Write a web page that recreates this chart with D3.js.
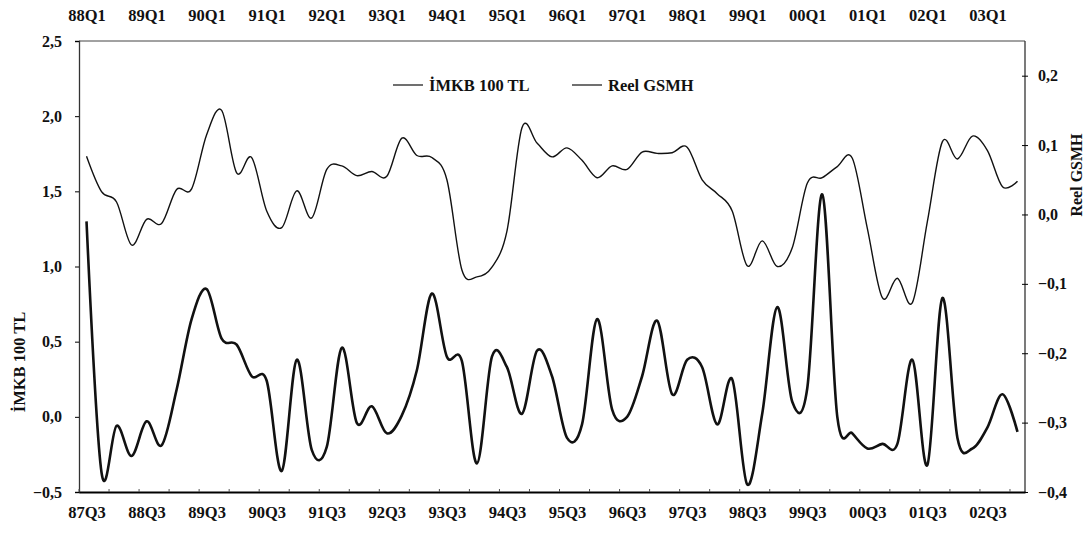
<!DOCTYPE html>
<html>
<head>
<meta charset="utf-8">
<script src="https://cdn.jsdelivr.net/npm/d3@7"></script>
<style>
  body { margin: 0; background: #fff; }
  svg text { font-family: "Liberation Serif", "Times New Roman", serif; font-weight: bold; fill: #111; }
</style>
</head>
<body>
<div id="chart"></div>
<script>
// quarters for the bottom axis (İMKB) and top axis (GSMH, two quarters ahead)
const quartersBottom = [];
const quartersTop = [];
for (let y = 1987; y <= 2003; y++) {
  for (let q = 1; q <= 4; q++) {
    const lab = String(y).slice(2) + "Q" + q;
    if ((y > 1987 || q >= 3) && (y < 2003 || q <= 1)) quartersBottom.push(lab);
    if (y >= 1988 && (y < 2003 || q <= 3)) quartersTop.push(lab);
  }
}

const imkb = [
  1.30, -0.37, -0.06, -0.26, -0.03, -0.19, 0.18, 0.65, 0.85, 0.52,
  0.48, 0.27, 0.24, -0.36, 0.38, -0.22, -0.20, 0.46, -0.04, 0.07,
  -0.11, 0.01, 0.31, 0.82, 0.40, 0.37, -0.31, 0.40, 0.33, 0.02,
  0.44, 0.27, -0.14, -0.05, 0.65, 0.05, 0.00, 0.27, 0.64, 0.15,
  0.38, 0.33, -0.05, 0.25, -0.45, 0.02, 0.73, 0.10, 0.19, 1.48,
  0.00, -0.11, -0.21, -0.18, -0.18, 0.38, -0.32, 0.79, -0.14, -0.21,
  -0.07, 0.15, -0.10
];

const gsmh = [
  0.084, 0.033, 0.018, -0.044, -0.007, -0.013, 0.036, 0.037, 0.115, 0.150,
  0.060, 0.082, 0.005, -0.019, 0.034, -0.005, 0.065, 0.070, 0.056, 0.062,
  0.055, 0.110, 0.085, 0.082, 0.050, -0.080, -0.090, -0.076, -0.024, 0.125,
  0.103, 0.083, 0.096, 0.078, 0.053, 0.070, 0.065, 0.090, 0.088, 0.089,
  0.097, 0.050, 0.030, 0.005, -0.074, -0.038, -0.075, -0.048, 0.045, 0.053,
  0.069, 0.081, -0.020, -0.120, -0.092, -0.127, -0.010, 0.105, 0.080, 0.113,
  0.092, 0.040, 0.048
];

const leftTicks = [-0.5, 0, 0.5, 1, 1.5, 2, 2.5];
const rightTicks = [-0.4, -0.3, -0.2, -0.1, 0, 0.1, 0.2];

const W = 1085, H = 536;
const margin = { top: 41, right: 60, bottom: 44, left: 79 };
const width = W - margin.left - margin.right;
const height = H - margin.top - margin.bottom;

const svg = d3.select("#chart").append("svg")
  .attr("width", W).attr("height", H);
const g = svg.append("g").attr("transform", `translate(${margin.left},${margin.top})`);

const x = d3.scalePoint().domain(quartersBottom).range([0, width]).padding(0.5);
const xTop = d3.scalePoint().domain(quartersTop).range([0, width]).padding(0.5);
const yL = d3.scaleLinear().domain([-0.5, 2.5]).range([height, 0]);
const yR = d3.scaleLinear().domain([-0.4, 0.25]).range([height, 0]);

const fmt = (d) => d3.format(".1f")(d).replace(".", ",");

// frame
g.append("line").attr("x1", 0).attr("x2", width).attr("y1", 0).attr("y2", 0)
  .attr("stroke", "#444").attr("stroke-width", 1);
g.append("line").attr("x1", width).attr("x2", width).attr("y1", 0).attr("y2", height)
  .attr("stroke", "#333").attr("stroke-width", 1.3);

// left axis
const axL = g.append("g")
  .call(d3.axisLeft(yL).tickValues(leftTicks).tickFormat(fmt).tickSize(4).tickPadding(13));
axL.select(".domain").attr("stroke", "#333").attr("stroke-width", 1.3);
axL.selectAll("text").style("font-size", "16px");

// right axis
const axR = g.append("g").attr("transform", `translate(${width},0)`)
  .call(d3.axisRight(yR).tickValues(rightTicks).tickFormat(fmt).tickSize(3).tickPadding(10));
axR.select(".domain").remove();
axR.selectAll(".tick line").attr("x1", -3);
axR.selectAll("text").style("font-size", "16px");

// bottom axis
const axB = g.append("g").attr("transform", `translate(0,${height})`)
  .call(d3.axisBottom(x)
    .tickValues(quartersBottom.filter((d) => d.endsWith("Q3")))
    .tickSize(0).tickPadding(14));
axB.select(".domain").attr("stroke", "#000").attr("stroke-width", 2);
axB.selectAll("text").style("font-size", "16.5px");
g.append("g").selectAll("line")
  .data(quartersBottom.filter((d, i) => i % 2 === 0))
  .join("line")
  .attr("x1", (d) => x(d) - x.step() / 2).attr("x2", (d) => x(d) - x.step() / 2)
  .attr("y1", height).attr("y2", height - 3)
  .attr("stroke", "#555").attr("stroke-width", 1);

// top axis
const axT = g.append("g")
  .call(d3.axisTop(xTop)
    .tickValues(quartersTop.filter((d) => d.endsWith("Q1")))
    .tickSize(0).tickPadding(20));
axT.select(".domain").remove();
axT.selectAll("text").style("font-size", "16.5px");

// lines
const lineL = d3.line().x((d, i) => x(quartersBottom[i])).y((d) => yL(d))
  .curve(d3.curveCardinal.tension(0));
const lineR = d3.line().x((d, i) => xTop(quartersTop[i])).y((d) => yR(d))
  .curve(d3.curveCardinal.tension(0));

g.append("path").datum(gsmh)
  .attr("fill", "none").attr("stroke", "#111").attr("stroke-width", 1.4)
  .attr("d", lineR);
g.append("path").datum(imkb)
  .attr("fill", "none").attr("stroke", "#111").attr("stroke-width", 2.6)
  .attr("stroke-linejoin", "round")
  .attr("d", lineL);

// axis titles
svg.append("text")
  .attr("transform", "translate(25,362) rotate(-90)")
  .attr("text-anchor", "middle").style("font-size", "16.5px")
  .text("İMKB 100 TL");
svg.append("text")
  .attr("transform", "translate(1082,175) rotate(-90)")
  .attr("text-anchor", "middle").style("font-size", "16px")
  .text("Reel GSMH");

// legend
const legend = [
  { name: "İMKB 100 TL", x: 393 },
  { name: "Reel GSMH", x: 572 }
];
const lg = svg.append("g").selectAll("g").data(legend).join("g")
  .attr("transform", (d) => `translate(${d.x},85)`);
lg.append("line").attr("x1", 0).attr("x2", 30).attr("y1", 0).attr("y2", 0)
  .attr("stroke", "#222").attr("stroke-width", 1.3);
lg.append("text").attr("x", 36).attr("y", 5.5).style("font-size", "16.5px")
  .text((d) => d.name);
</script>
</body>
</html>
